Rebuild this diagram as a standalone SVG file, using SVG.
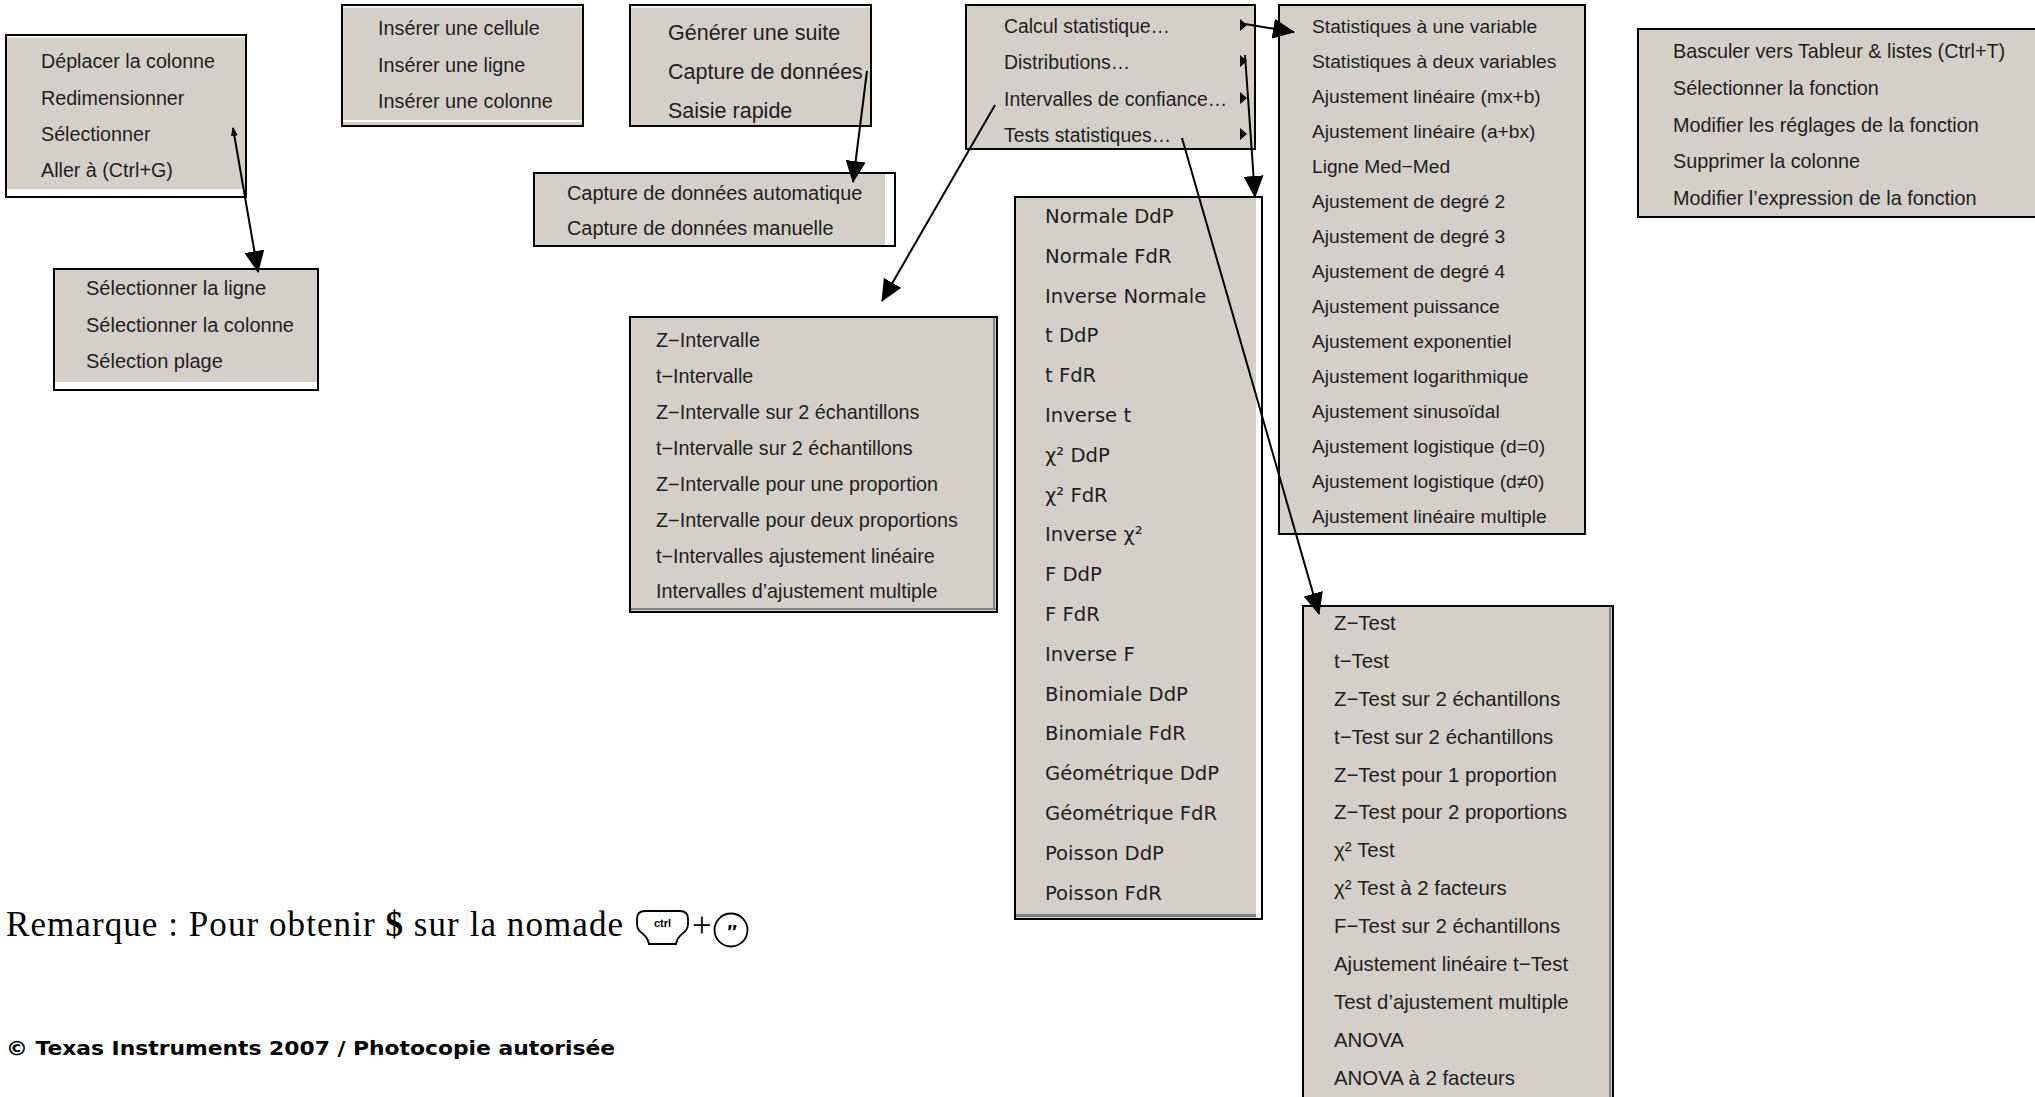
<svg xmlns="http://www.w3.org/2000/svg" width="2035" height="1097" viewBox="0 0 2035 1097">
<style>
.box{fill:#d4d0c8;stroke:#000;stroke-width:2}
.hl{fill:#fff}
.sh{fill:#808080}
.t{font-family:"Liberation Sans",Arial,sans-serif;fill:#1e1e1e}
.v{font-family:"DejaVu Sans",Verdana,sans-serif;fill:#1e1e1e;font-size:19.6px}
.c{fill:none;stroke:#000;stroke-width:2}
.tri{fill:#000}
</style>
<defs>
<marker id="ah" markerUnits="userSpaceOnUse" markerWidth="22" markerHeight="20" refX="21" refY="10" orient="auto" viewBox="0 0 22 20">
<path d="M0,0 L22,10 L0,20 Z" fill="#000"/>
</marker>
<marker id="sm" markerUnits="userSpaceOnUse" markerWidth="9" markerHeight="7" refX="8" refY="3.5" orient="auto-start-reverse" viewBox="0 0 9 7">
<path d="M0,0 L9,3.5 L0,7 Z" fill="#000"/>
</marker>
</defs>
<rect width="2035" height="1097" fill="#fff"/>

<g id="menu-colonne">
<rect class="box" x="6" y="35" width="240" height="162"/>
<rect class="hl" x="7" y="189" width="238" height="7"/>
<rect class="hl" x="7" y="36" width="238" height="1.5"/>
<g class="t" font-size="19.7">
<text x="41" y="68">Déplacer la colonne</text>
<text x="41" y="104.5">Redimensionner</text>
<text x="41" y="141">Sélectionner</text>
<text x="41" y="177">Aller à (Ctrl+G)</text>
</g>
</g>

<g id="menu-selection">
<rect class="box" x="54" y="269" width="264" height="121"/>
<rect class="hl" x="55" y="382" width="262" height="7"/>
<g class="t" font-size="20">
<text x="86" y="295">Sélectionner la ligne</text>
<text x="86" y="332">Sélectionner la colonne</text>
<text x="86" y="368">Sélection plage</text>
</g>
</g>

<g id="menu-inserer">
<rect class="box" x="342" y="5" width="241" height="121"/>
<rect class="hl" x="343" y="120" width="239" height="2"/>
<rect class="hl" x="343" y="6" width="239" height="1.5"/>
<g class="t" font-size="19.8">
<text x="378" y="35">Insérer une cellule</text>
<text x="378" y="72">Insérer une ligne</text>
<text x="378" y="108">Insérer une colonne</text>
</g>
</g>

<g id="menu-donnees">
<rect class="box" x="630" y="5" width="241" height="121"/>
<rect class="hl" x="631" y="6" width="239" height="1.5"/>
<g class="t" font-size="21.5">
<text x="668" y="40">Générer une suite</text>
<text x="668" y="79">Capture de données</text>
<text x="668" y="118">Saisie rapide</text>
</g>
</g>

<g id="menu-capture">
<rect class="box" x="534" y="173" width="361" height="73"/>
<rect class="hl" x="885" y="174" width="9" height="71"/>
<g class="t" font-size="19.9">
<text x="567" y="200">Capture de données automatique</text>
<text x="567" y="235">Capture de données manuelle</text>
</g>
</g>

<g id="menu-stat">
<rect class="box" x="966" y="5" width="289" height="144"/>
<g class="t" font-size="19.4">
<text x="1004" y="33">Calcul statistique…</text>
<text x="1004" y="69">Distributions…</text>
<text x="1004" y="106">Intervalles de confiance…</text>
<text x="1004" y="142">Tests statistiques…</text>
</g>
<path class="tri" d="M1240,19 L1247,25 L1240,31 Z"/>
<path class="tri" d="M1240,55 L1247,61 L1240,67 Z"/>
<path class="tri" d="M1240,92 L1247,98 L1240,104 Z"/>
<path class="tri" d="M1240,128 L1247,134 L1240,140 Z"/>
</g>

<g id="menu-calcul">
<rect class="box" x="1279" y="5" width="306" height="529"/>
<g class="t" font-size="19.2">
<text x="1312" y="33">Statistiques à une variable</text>
<text x="1312" y="68">Statistiques à deux variables</text>
<text x="1312" y="103">Ajustement linéaire (mx+b)</text>
<text x="1312" y="138">Ajustement linéaire (a+bx)</text>
<text x="1312" y="173">Ligne Med−Med</text>
<text x="1312" y="208">Ajustement de degré 2</text>
<text x="1312" y="243">Ajustement de degré 3</text>
<text x="1312" y="278">Ajustement de degré 4</text>
<text x="1312" y="313">Ajustement puissance</text>
<text x="1312" y="348">Ajustement exponentiel</text>
<text x="1312" y="383">Ajustement logarithmique</text>
<text x="1312" y="418">Ajustement sinusoïdal</text>
<text x="1312" y="453">Ajustement logistique (d=0)</text>
<text x="1312" y="488">Ajustement logistique (d≠0)</text>
<text x="1312" y="523">Ajustement linéaire multiple</text>
</g>
</g>

<g id="menu-fonction">
<rect class="box" x="1638" y="29" width="420" height="188"/>
<g class="t" font-size="19.8">
<text x="1673" y="58">Basculer vers Tableur &amp; listes (Ctrl+T)</text>
<text x="1673" y="95">Sélectionner la fonction</text>
<text x="1673" y="132">Modifier les réglages de la fonction</text>
<text x="1673" y="168">Supprimer la colonne</text>
<text x="1673" y="205">Modifier l’expression de la fonction</text>
</g>
</g>

<g id="menu-intervalles">
<rect class="box" x="630" y="317" width="367" height="295"/>
<rect class="sh" x="631" y="608" width="365" height="2"/>
<rect class="sh" x="993" y="318" width="2" height="292"/>
<g class="t" font-size="19.8">
<text x="656" y="347">Z−Intervalle</text>
<text x="656" y="383">t−Intervalle</text>
<text x="656" y="419">Z−Intervalle sur 2 échantillons</text>
<text x="656" y="455">t−Intervalle sur 2 échantillons</text>
<text x="656" y="491">Z−Intervalle pour une proportion</text>
<text x="656" y="526.5">Z−Intervalle pour deux proportions</text>
<text x="656" y="562.5">t−Intervalles ajustement linéaire</text>
<text x="656" y="598">Intervalles d’ajustement multiple</text>
</g>
</g>

<g id="menu-distributions">
<rect class="box" x="1015" y="197" width="247" height="722"/>
<rect class="hl" x="1256" y="198" width="5" height="720"/>
<rect class="sh" x="1016" y="914" width="240" height="3"/>
<g class="v">
<text x="1045" y="223">Normale DdP</text>
<text x="1045" y="263">Normale FdR</text>
<text x="1045" y="303">Inverse Normale</text>
<text x="1045" y="342">t DdP</text>
<text x="1045" y="382">t FdR</text>
<text x="1045" y="422">Inverse t</text>
<text x="1045" y="462">χ² DdP</text>
<text x="1045" y="502">χ² FdR</text>
<text x="1045" y="541">Inverse χ²</text>
<text x="1045" y="581">F DdP</text>
<text x="1045" y="621">F FdR</text>
<text x="1045" y="661">Inverse F</text>
<text x="1045" y="701">Binomiale DdP</text>
<text x="1045" y="740">Binomiale FdR</text>
<text x="1045" y="780">Géométrique DdP</text>
<text x="1045" y="820">Géométrique FdR</text>
<text x="1045" y="860">Poisson DdP</text>
<text x="1045" y="900">Poisson FdR</text>
</g>
</g>

<g id="menu-tests">
<rect class="box" x="1303" y="606" width="310" height="500"/>
<rect class="sh" x="1609" y="607" width="2" height="495"/>
<g class="t" font-size="20.4">
<text x="1334" y="630">Z−Test</text>
<text x="1334" y="668">t−Test</text>
<text x="1334" y="706">Z−Test sur 2 échantillons</text>
<text x="1334" y="744">t−Test sur 2 échantillons</text>
<text x="1334" y="782">Z−Test pour 1 proportion</text>
<text x="1334" y="819">Z−Test pour 2 proportions</text>
<text x="1334" y="857">χ² Test</text>
<text x="1334" y="895">χ² Test à 2 facteurs</text>
<text x="1334" y="933">F−Test sur 2 échantillons</text>
<text x="1334" y="971">Ajustement linéaire t−Test</text>
<text x="1334" y="1009">Test d’ajustement multiple</text>
<text x="1334" y="1047">ANOVA</text>
<text x="1334" y="1085">ANOVA à 2 facteurs</text>
</g>
</g>

<g id="connectors">
<line class="c" x1="233" y1="128" x2="258" y2="272" marker-start="url(#sm)" marker-end="url(#ah)"/>
<line class="c" x1="867" y1="71" x2="853" y2="182" marker-end="url(#ah)"/>
<line class="c" x1="995" y1="105" x2="882" y2="301" marker-end="url(#ah)"/>
<line class="c" x1="1245" y1="24" x2="1294" y2="32" marker-end="url(#ah)"/>
<line class="c" x1="1245" y1="55" x2="1255" y2="197" marker-end="url(#ah)"/>
<line class="c" x1="1182" y1="138" x2="1319" y2="614" marker-end="url(#ah)"/>
</g>

<g id="remarque">
<text x="6" y="936" font-family="Liberation Serif,'Times New Roman',serif" font-size="35" fill="#000" textLength="617">Remarque : Pour obtenir <tspan font-weight="bold">$</tspan> sur la nomade</text>
<path d="M645,911 H680 Q688,911 688,919 V924 Q688,930 682,934 Q677,938 676,944 H649 Q648,938 643,934 Q637,930 637,924 V919 Q637,911 645,911 Z" fill="#fff" stroke="#000" stroke-width="1.8"/>
<text x="662.5" y="927" text-anchor="middle" font-family="Liberation Sans,Arial,sans-serif" font-weight="bold" font-size="11" fill="#000">ctrl</text>
<text x="692" y="937" font-family="Liberation Serif,'Times New Roman',serif" font-size="35" fill="#000">+</text>
<circle cx="731" cy="930" r="16.5" fill="#fff" stroke="#000" stroke-width="1.8"/>
<text x="731" y="939" text-anchor="middle" font-family="Liberation Sans,Arial,sans-serif" font-weight="bold" font-style="italic" font-size="20" fill="#000">″</text>
</g>

<g id="copyright">
<text x="6" y="1055" font-family="DejaVu Sans,Verdana,sans-serif" font-weight="bold" font-size="20" fill="#000" textLength="609" lengthAdjust="spacingAndGlyphs">© Texas Instruments 2007 / Photocopie autorisée</text>
</g>
</svg>
